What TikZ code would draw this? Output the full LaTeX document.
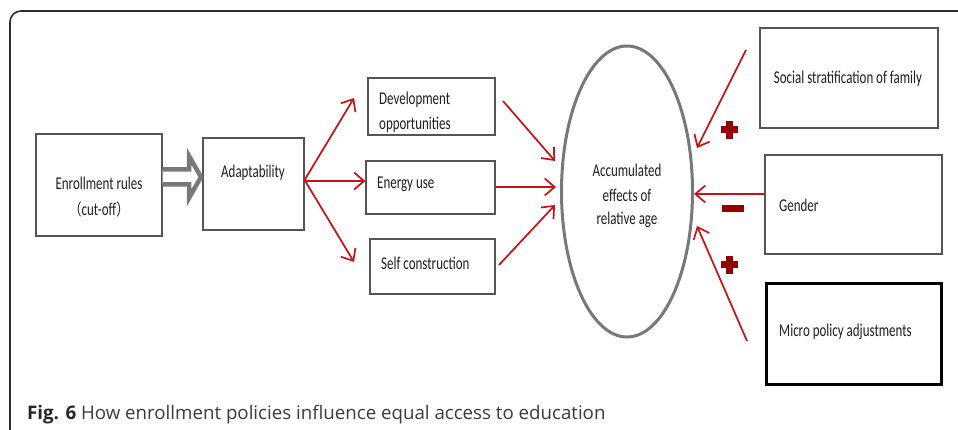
\documentclass[tikz,border=0pt]{standalone}
\usepackage{fontspec}
\usetikzlibrary{arrows.meta,shapes.geometric}
\newfontfamily\diagfont[FakeStretch=0.72]{Carlito}
\newfontfamily\capfont{Open Sans}
\newfontfamily\cjkfont[FakeStretch=0.8]{Noto Sans CJK SC}
\definecolor{arrowred}{RGB}{200,16,22}
\definecolor{signred}{RGB}{150,0,0}
\definecolor{boxline}{RGB}{85,85,85}
\definecolor{ellline}{RGB}{120,120,120}
\definecolor{framegray}{RGB}{45,45,45}
\definecolor{captext}{RGB}{60,60,60}
\tikzset{
  box/.style={draw=boxline, line width=1.2pt, fill=white, inner sep=0pt},
  thickbox/.style={draw=black, line width=3pt, fill=white, inner sep=0pt},
  txt/.style={font=\diagfont\fontsize{18}{20}\selectfont, text=black!88, inner sep=0pt},
  redarrow/.style={draw=arrowred, line width=1.7pt,
    -{Straight Barb[length=10pt,width=17pt,line width=1.7pt]}},
  sign/.style={fill=signred, draw=none}
}
\begin{document}
\begin{tikzpicture}[x=1pt,y=-1pt]
  \useasboundingbox (0,0) rectangle (958,430);
  \fill[white] (0,0) rectangle (958,430);
  % outer frame, open to the right and bottom
  \draw[framegray, line width=1.6pt, rounded corners=11pt] (10,432) -- (10,11) -- (960,11);

  % boxes
  \node[box, minimum width=126pt, minimum height=102pt] (enr) at (99,185) {};
  \node[box, minimum width=101pt, minimum height=92pt] (adapt) at (253.5,184) {};
  \node[box, minimum width=127pt, minimum height=57pt] (dev) at (431.5,106.5) {};
  \node[box, minimum width=129pt, minimum height=53pt] (energy) at (430.5,187.5) {};
  \node[box, minimum width=125pt, minimum height=55pt] (self) at (432.5,266.5) {};
  \node[box, minimum width=178pt, minimum height=100pt] (social) at (849,78) {};
  \node[box, minimum width=177pt, minimum height=99pt] (gender) at (853.5,204.5) {};
  \node[thickbox, minimum width=175pt, minimum height=101pt] (micro) at (854,334) {};
  \node[ellipse, draw=ellline, line width=3pt, minimum width=131pt, minimum height=291pt,
        inner sep=0pt] (acc) at (627,191.5) {};

  % texts
  \node[txt] (t-enr1) at (99,183) {Enrollment rules};
  \node[txt] (t-enr2) at (99,209) {{\cjkfont\fontsize{16}{18}\selectfont （}cut-off{\cjkfont\fontsize{16}{18}\selectfont ）}};
  \node[txt] (t-adapt) at (253,173) {Adaptability};
  \node[txt, anchor=west] (t-dev1) at (379,100) {Development};
  \node[txt, anchor=west] (t-dev2) at (379,125) {opportunities};
  \node[txt, anchor=west] (t-energy) at (377,184) {Energy use};
  \node[txt, anchor=west] (t-self) at (381,263) {Self construction};
  \node[txt] (t-acc1) at (627,170) {Accumulated};
  \node[txt] (t-acc2) at (627,195) {effects of};
  \node[txt] (t-acc3) at (627,220) {relative age};
  \node[txt] (t-social) at (848,79) {Social stratification of family};
  \node[txt, anchor=west] (t-gender) at (779,205) {Gender};
  \node[txt, anchor=west] (t-micro) at (779,332) {Micro policy adjustments};

  % hollow block arrow between the first two boxes
  \coordinate (ha0) at (enr.east |- 0,169.5);
  \coordinate (hb0) at (enr.east |- 0,184.5);
  \filldraw[fill=white, draw=ellline, line width=4.5pt, line join=miter]
    (ha0) -- (189,169.5) -- (189,156) -- (201,177) -- (189,198) -- (189,184.5) -- (hb0);

  % fan-out from adaptability
  \coordinate (f1) at (354,98);
  \coordinate (f3) at (354,262);
  \draw[redarrow] (adapt.east |- 0,180) -- (f1);
  \draw[redarrow] (adapt.east |- 0,181) -- (energy.west |- 0,181);
  \draw[redarrow] (adapt.east |- 0,180) -- (f3);

  % into the ellipse
  \coordinate (s1) at (503,101);
  \coordinate (e1) at (555,161);
  \coordinate (e2) at (556,187);
  \coordinate (s3) at (499,265);
  \coordinate (e3) at (555,205);
  \draw[redarrow] (s1) -- (e1);
  \draw[redarrow] (energy.east |- 0,187) -- (e2);
  \draw[redarrow] (s3) -- (e3);

  % moderating factors
  \coordinate (m1) at (746,50);
  \coordinate (n1) at (697,148);
  \coordinate (n2) at (694,194);
  \coordinate (m3) at (747,341);
  \coordinate (n3) at (697,226);
  \draw[redarrow] (m1) -- (n1);
  \draw[redarrow] (gender.west |- 0,194) -- (n2);
  \draw[redarrow] (m3) -- (n3);

  % signs
  \fill[sign] (726,121) rectangle (733,139);
  \fill[sign] (721,126.5) rectangle (738,133.5);
  \node[sign, minimum width=22pt, minimum height=6.5pt, inner sep=0pt] (minus) at (733,208.5) {};
  \fill[sign] (726,256) rectangle (733,274);
  \fill[sign] (721,261.5) rectangle (738,268.5);

  % caption
  \node[anchor=base west, inner sep=0pt, font=\capfont\fontsize{18.7}{22}\selectfont, text=captext]
    (caption) at (27,419) {{\bfseries\color{black!85}Fig. 6} How enrollment policies influence equal access to education};
\end{tikzpicture}
\end{document}
